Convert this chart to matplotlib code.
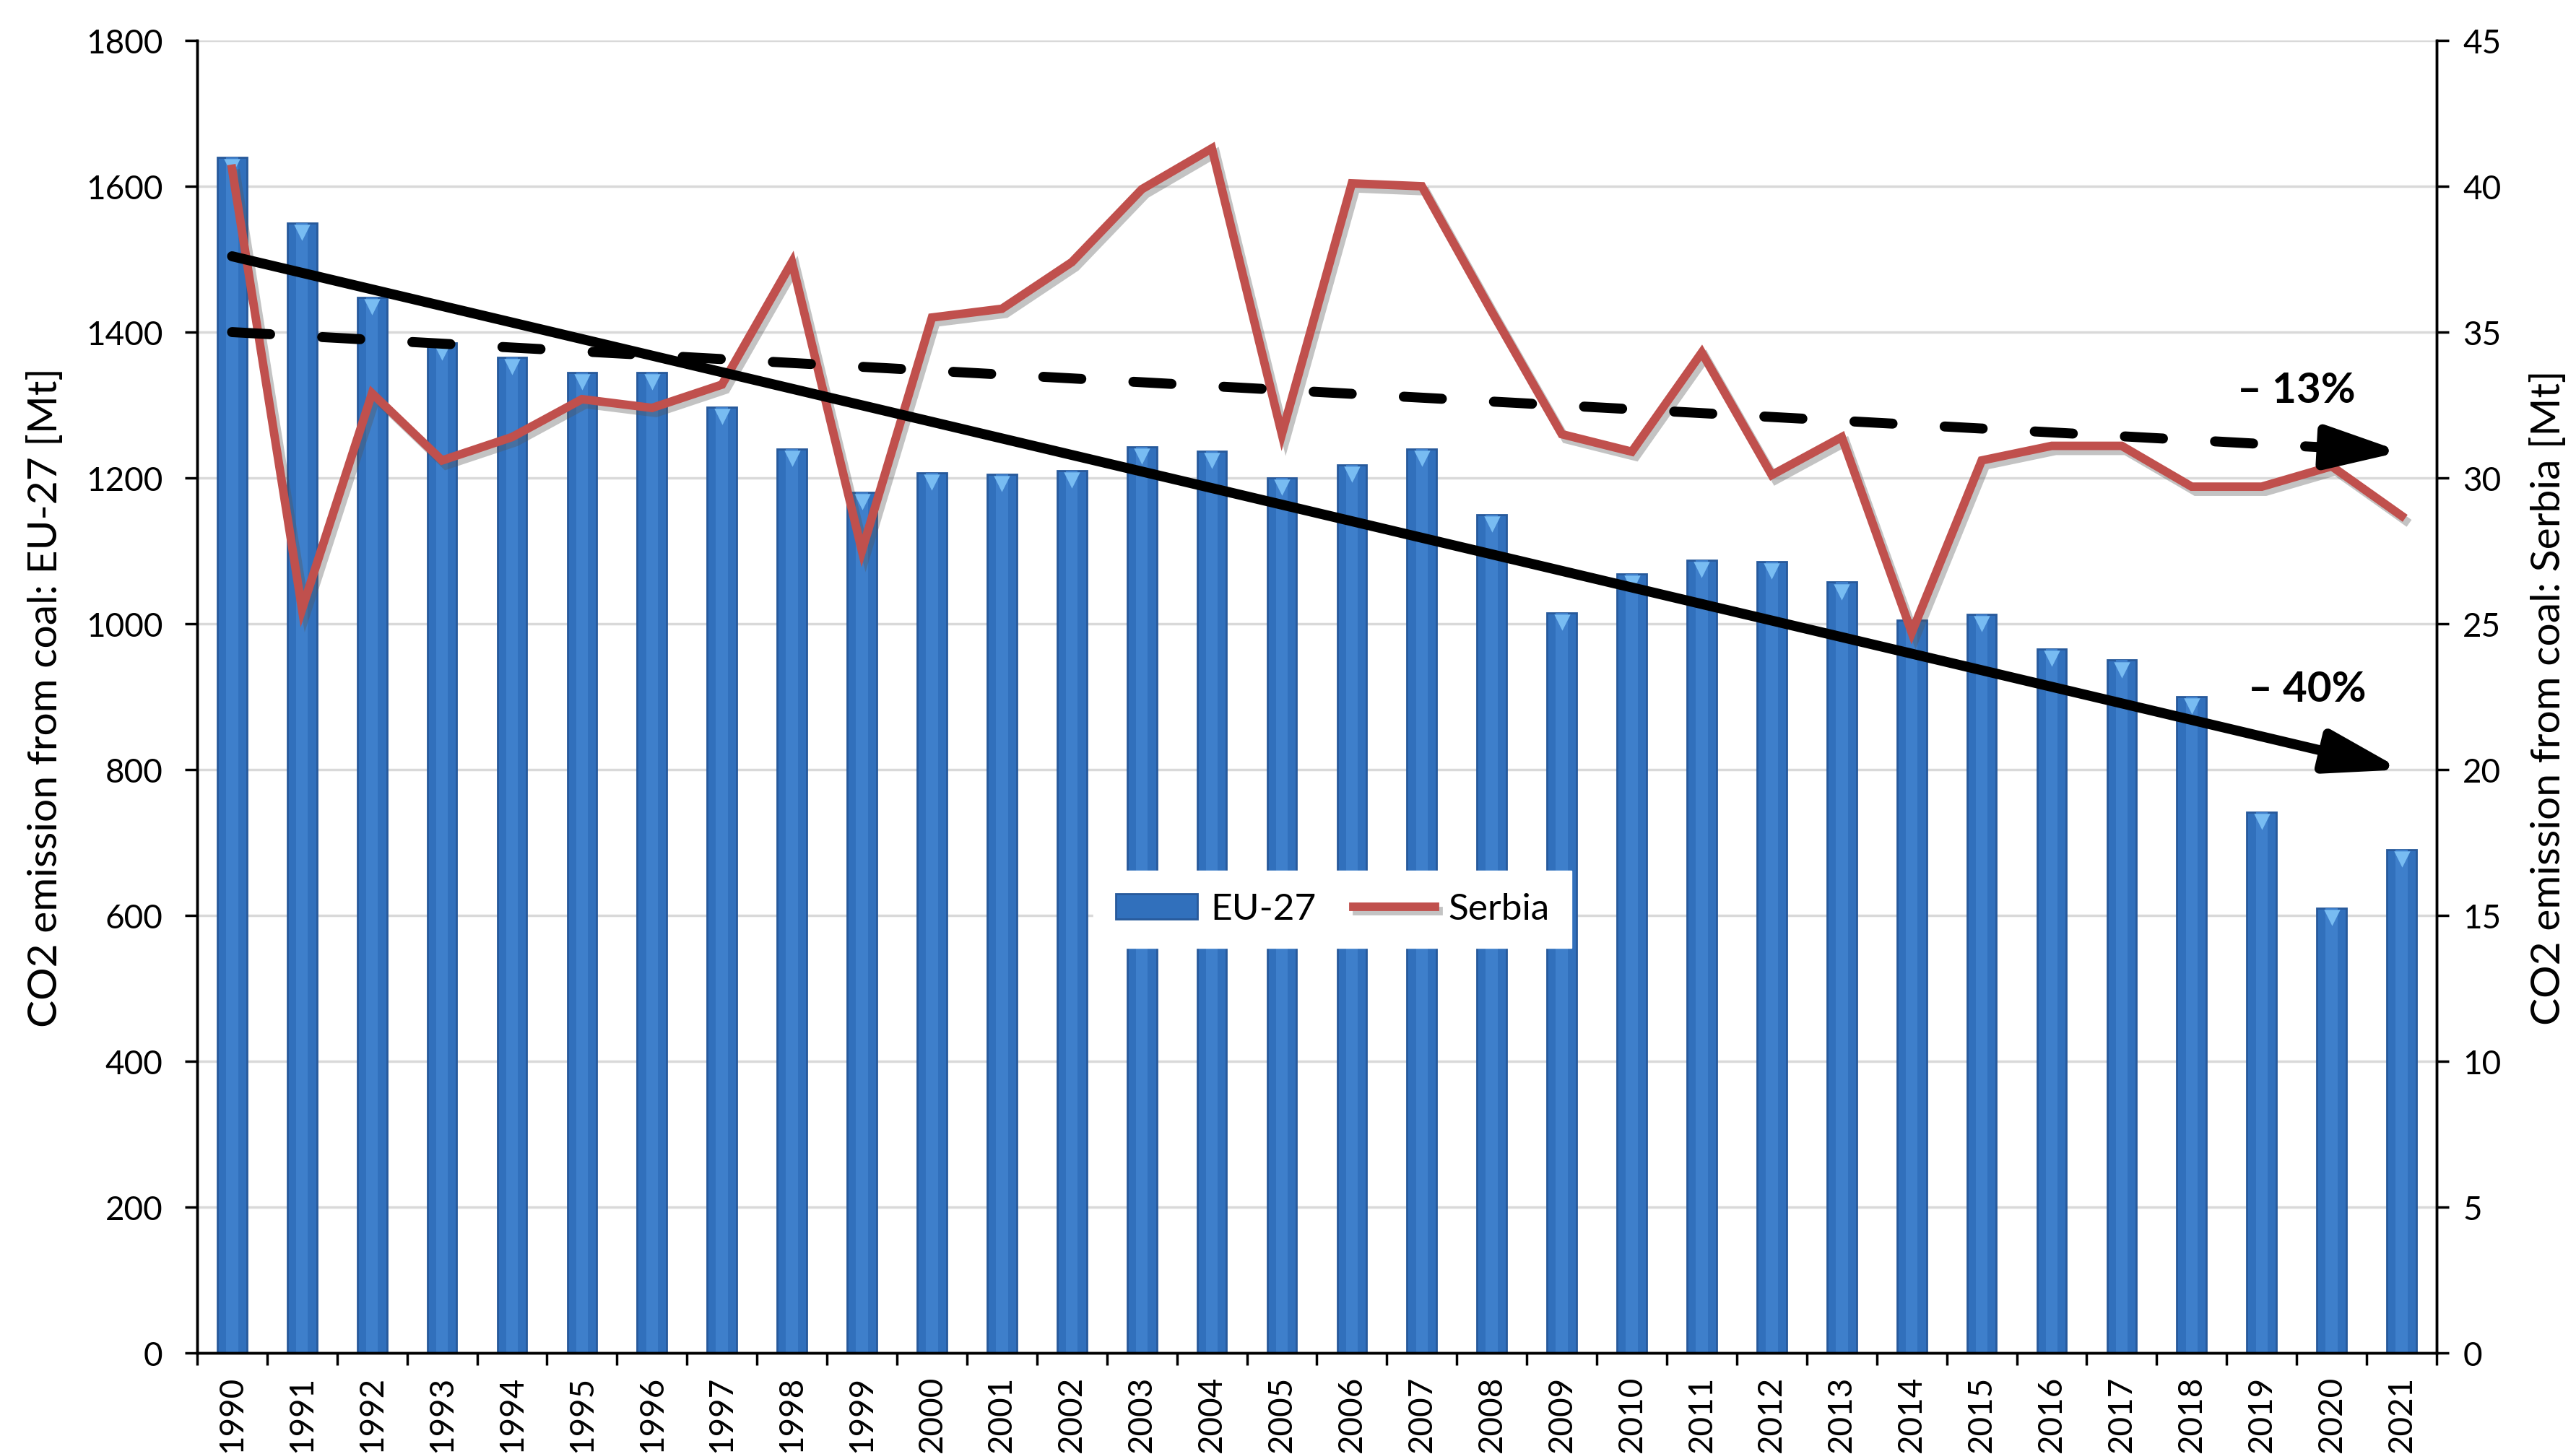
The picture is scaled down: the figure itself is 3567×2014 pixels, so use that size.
import matplotlib
matplotlib.use("Agg")
import matplotlib.pyplot as plt
import matplotlib.patheffects as pe
import numpy as np

plt.rcParams['font.family'] = ['Lato', 'DejaVu Sans']

# Данные
years = list(range(1990, 2022))
eu27 = [1640, 1550, 1448, 1385, 1365, 1345, 1345, 1297, 1240, 1180,
        1207, 1205, 1210, 1243, 1237, 1200, 1218, 1240, 1150, 1015,
        1068, 1087, 1085, 1057, 1005, 1013, 965, 950, 900, 742,
        610, 690]
serbia = [40.6, 25.5, 32.9, 30.6, 31.4, 32.7, 32.4, 33.2, 37.4, 27.5,
          35.5, 35.8, 37.4, 39.9, 41.3, 31.5, 40.1, 40.0, 35.7, 31.5,
          30.9, 34.3, 30.1, 31.4, 24.7, 30.6, 31.1, 31.1, 29.7, 29.7,
          30.4, 28.7]

# Тренды (в единицах правой оси)
trend_eu = [37.6, 20.0]
trend_rs = [35.0, 30.9]
trend_eu_label = '– 40%'
trend_rs_label = '– 13%'

left_label = 'CO2 emission from coal: EU-27 [Mt]'
right_label = 'CO2 emission from coal: Serbia [Mt]'

x = np.arange(len(years))
x_end = x[-1]

fig = plt.figure(figsize=(35.67, 20.15), dpi=100)
ax = fig.add_axes([0.0765, 0.0695, 0.8694, 0.9022])
ax2 = ax.twinx()

# Столбцы EU-27
bars = ax.bar(x, eu27, width=0.42, color='#3170BC', edgecolor='#27599B',
              linewidth=2, zorder=2, label='EU-27')
ax.bar(x, eu27, width=0.17, color='#3E7FCB', linewidth=0, zorder=2.1)
ax.scatter(x, np.array(eu27) - 13, marker='v', s=260, color='#78BCF2',
           linewidths=0, zorder=2.2)

ax.set_xlim(-0.5, len(years) - 0.5)
ax.set_ylim(0, 1800)
ax.set_yticks(np.arange(0, 1801, 200))
ax.yaxis.grid(True, color='#D9D9D9', linewidth=2.5)
ax.set_axisbelow(True)

ax.set_xticks(x)
ax.set_xticklabels([str(y) for y in years], rotation=90, fontsize=33)
ax.set_xticks(np.arange(-0.5, len(years), 1), minor=True)
ax.tick_params(axis='x', which='major', length=0, pad=22)
ax.tick_params(axis='x', which='minor', length=12, width=2.5, direction='out')
ax.tick_params(axis='y', labelsize=33, length=12, width=2.5, direction='out', pad=22)

ax.set_ylabel(left_label, fontsize=41)
ax.yaxis.set_label_coords(-0.0592, 0.5)

# Линия Сербии
line, = ax2.plot(x, serbia, color='#C0504D', linewidth=8.5, zorder=3,
                 solid_joinstyle='miter', label='Serbia',
                 path_effects=[pe.SimpleLineShadow(offset=(4, -5), shadow_color='#555555', alpha=0.35),
                               pe.Normal()])
ax2.set_ylim(0, 45)
ax2.set_yticks(np.arange(0, 46, 5))
ax2.tick_params(axis='y', labelsize=33, length=12, width=2.5, direction='out', pad=14)
ax2.set_ylabel(right_label, fontsize=41)
ax2.yaxis.set_label_coords(1.0418, 0.5)

# Стрелки трендов
head = '-|>,head_length=3.1,head_width=0.9'
ax2.annotate('', xy=(x_end, trend_eu[1]), xytext=(0, trend_eu[0]),
             arrowprops=dict(arrowstyle=head, mutation_scale=20, lw=10, color='black',
                             shrinkA=0, shrinkB=0, capstyle='round'),
             zorder=4)
t_cut = x_end - 1.2
y_cut = trend_rs[0] + (trend_rs[1] - trend_rs[0]) * t_cut / x_end
ax2.plot([0, t_cut], [trend_rs[0], y_cut], color='black', linewidth=10,
         linestyle=(0, (3.8, 5.2)), dash_capstyle='round', zorder=4)
ax2.annotate('', xy=(x_end, trend_rs[1]), xytext=(t_cut, y_cut),
             arrowprops=dict(arrowstyle=head, mutation_scale=20, lw=10, color='black',
                             shrinkA=0, shrinkB=0),
             zorder=4)

ax2.text(29.5, 33.0, trend_rs_label, ha='center', va='center', fontsize=42, fontweight='bold')
ax2.text(29.65, 22.75, trend_eu_label, ha='center', va='center', fontsize=42, fontweight='bold')

for a in (ax, ax2):
    a.spines['top'].set_visible(False)
    for s in ('left', 'right', 'bottom'):
        a.spines[s].set_linewidth(2.5)

leg = ax2.legend([bars, line], ['EU-27', 'Serbia'], ncol=2, loc='center',
                 bbox_to_anchor=(0.507, 0.338), fontsize=37, frameon=True,
                 fancybox=False, edgecolor='white', facecolor='white', framealpha=1,
                 handlelength=2.2, columnspacing=1.0, handletextpad=0.35,
                 borderpad=0.6)
leg.set_zorder(10)

fig.savefig('out.png', dpi=100)
